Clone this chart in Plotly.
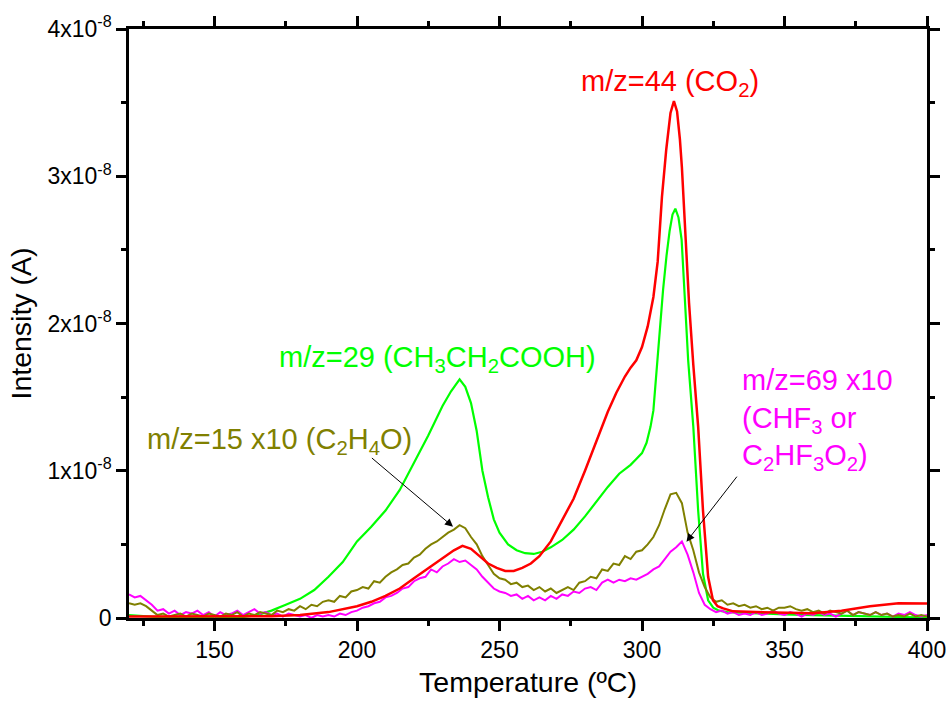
import plotly.graph_objects as go

# ---------------- data (intensity in units of 1e-8 A) ----------------
red_x = [120, 130, 140, 150, 160, 170, 180, 190, 200, 205, 210, 215, 220, 225, 230, 234, 237,
         240, 243, 246, 249, 252, 255, 258, 261, 264, 268, 272, 276, 280, 284, 288, 291, 294,
         296, 298, 300, 302, 304, 305.5, 307, 308.5, 310, 311.2, 312.3, 313.3, 314, 315, 316.5,
         318, 319.7, 321.4, 323.2, 324.9, 326.5, 328.5, 332, 340, 350, 360, 370, 380, 390, 395, 400]
red_y = [0.01, 0.01, 0.01, 0.01, 0.01, 0.012, 0.02, 0.04, 0.08, 0.11, 0.15, 0.2, 0.27, 0.34, 0.41,
         0.46, 0.49, 0.47, 0.42, 0.37, 0.34, 0.32, 0.32, 0.34, 0.37, 0.42, 0.52, 0.66, 0.81, 1.0,
         1.2, 1.4, 1.53, 1.64, 1.7, 1.75, 1.84, 1.98, 2.18, 2.42, 2.86, 3.18, 3.43, 3.51, 3.44,
         3.25, 3.06, 2.68, 2.14, 1.72, 1.3, 0.73, 0.28, 0.12, 0.08, 0.065, 0.045, 0.04, 0.035,
         0.033, 0.05, 0.08, 0.1, 0.1, 0.098]

green_x = [120, 125, 130, 140, 150, 160, 165, 170, 175, 180, 185, 190, 195, 200, 205, 210, 215,
           220, 225, 230, 233, 236, 238, 240, 242, 244, 246, 248, 250, 253, 256, 259, 262, 265,
           268, 272, 276, 280, 284, 288, 292, 296, 298, 300, 301.6, 303, 304, 305, 306.2, 307.4,
           308.6, 309.7, 310.7, 311.7, 312.8, 313.9, 315, 316.2, 318, 319.7, 321.4, 323.2, 325,
           327, 330, 340, 350, 360, 370, 380, 390, 400]
green_y = [0.02, 0.012, 0.006, 0.003, 0.003, 0.006, 0.02, 0.05, 0.09, 0.13, 0.19, 0.28, 0.38,
           0.52, 0.62, 0.73, 0.87, 1.05, 1.24, 1.44, 1.54, 1.62, 1.57, 1.46, 1.27, 1.0, 0.82,
           0.67, 0.58, 0.5, 0.46, 0.44, 0.435, 0.45, 0.48, 0.53, 0.6, 0.69, 0.79, 0.89, 0.98,
           1.04, 1.08, 1.12, 1.19, 1.3, 1.41, 1.65, 1.96, 2.23, 2.46, 2.63, 2.74, 2.78, 2.72,
           2.57, 2.18, 1.75, 1.3, 0.73, 0.3, 0.12, 0.07, 0.05, 0.04, 0.03, 0.025, 0.02, 0.015,
           0.01, 0.005, 0.003]

noisy_x = list(range(120, 401, 2))

olive_y = [0.10, 0.09, 0.10, 0.08, 0.05,
           0.02, 0.03, 0.01, 0.02, 0.03,
           0.01, 0.03, 0.02, 0.01, 0.03,
           0.02, 0.01, 0.03, 0.02, 0.04,
           0.01, 0.03, 0.02, 0.04, 0.03,
           0.02, 0.05, 0.04, 0.06, 0.05,
           0.08, 0.06, 0.09, 0.08, 0.11,
           0.12, 0.11, 0.15, 0.14, 0.18,
           0.19, 0.21, 0.20, 0.25, 0.24,
           0.28, 0.31, 0.33, 0.36, 0.37,
           0.41, 0.43, 0.47, 0.50, 0.52,
           0.55, 0.58, 0.60, 0.63, 0.61,
           0.55, 0.50, 0.42, 0.36, 0.30,
           0.27, 0.26, 0.23, 0.24, 0.21,
           0.22, 0.19, 0.21, 0.18, 0.20,
           0.17, 0.19, 0.21, 0.19, 0.24,
           0.25, 0.28, 0.27, 0.33, 0.32,
           0.37, 0.36, 0.42, 0.40, 0.45,
           0.46, 0.50, 0.55, 0.63, 0.74,
           0.84, 0.85, 0.78, 0.58, 0.46,
           0.31, 0.21, 0.14, 0.11, 0.12,
           0.09, 0.10, 0.08, 0.09, 0.07,
           0.08, 0.06, 0.07, 0.05, 0.07,
           0.07, 0.08, 0.06, 0.05, 0.06,
           0.04, 0.05, 0.03, 0.05, 0.04,
           0.03, 0.05, 0.02, 0.04, 0.03,
           0.02, 0.04, 0.02, 0.03, 0.01,
           0.02, 0.01, 0.03, 0.01, 0.02,
           0.01]

magenta_y = [0.16, 0.14, 0.15, 0.12, 0.09,
             0.05, 0.06, 0.03, 0.05, 0.02,
             0.04, 0.03, 0.05, 0.02, 0.04,
             0.01, 0.04, 0.02, 0.03, 0.05,
             0.02, 0.04, 0.06, 0.03, 0.04,
             0.02, 0.03, 0.01, 0.03, 0.02,
             0.01, 0.02, 0.00, 0.02, 0.01,
             0.02, 0.01, 0.03, 0.02, 0.04,
             0.05, 0.07, 0.08, 0.10, 0.11,
             0.14, 0.15, 0.17, 0.20, 0.21,
             0.25, 0.27, 0.28, 0.33, 0.31,
             0.35, 0.37, 0.40, 0.38, 0.39,
             0.36, 0.33, 0.28, 0.24, 0.20,
             0.18, 0.17, 0.15, 0.16, 0.13,
             0.15, 0.12, 0.14, 0.12, 0.15,
             0.13, 0.16, 0.15, 0.18, 0.17,
             0.20, 0.21, 0.19, 0.24, 0.26,
             0.24, 0.26, 0.25, 0.27, 0.26,
             0.28, 0.30, 0.33, 0.35, 0.40,
             0.45, 0.48, 0.52, 0.43, 0.31,
             0.17, 0.09, 0.06, 0.04, 0.05,
             0.03, 0.04, 0.02, 0.03, 0.02,
             0.04, 0.02, 0.03, 0.05, 0.03,
             0.02, 0.04, 0.03, 0.01, 0.03,
             0.02, 0.04, 0.02, 0.03, 0.01,
             0.03, 0.05, 0.02, 0.04, 0.03,
             0.02, 0.04, 0.02, 0.03, 0.01,
             0.03, 0.02, 0.04, 0.02, 0.01,
             0.02]

x_tickvals = [150, 200, 250, 300, 350, 400]
y_tickvals = [0, 1e-8, 2e-8, 3e-8, 4e-8]
y_ticktext = ["0", "1x10<sup>-8</sup>", "2x10<sup>-8</sup>", "3x10<sup>-8</sup>", "4x10<sup>-8</sup>"]

SCALE = 1e-8
FONT = "Liberation Sans, Arial, sans-serif"
RED, GREEN, OLIVE, MAGENTA = "#FF0000", "#00FF00", "#808000", "#FF00FF"

fig = go.Figure()
fig.add_trace(go.Scatter(x=green_x, y=[v * SCALE for v in green_y], mode="lines",
                         line=dict(color=GREEN, width=2.2)))
fig.add_trace(go.Scatter(x=noisy_x, y=[v * SCALE for v in magenta_y], mode="lines",
                         line=dict(color=MAGENTA, width=2)))
fig.add_trace(go.Scatter(x=noisy_x, y=[v * SCALE for v in olive_y], mode="lines",
                         line=dict(color=OLIVE, width=2)))
fig.add_trace(go.Scatter(x=red_x, y=[v * SCALE for v in red_y], mode="lines",
                         line=dict(color=RED, width=2.5)))

ann_font = 29
annotations = [
    dict(x=277.8, y=3.63e-8, text="m/z=44 (CO<sub>2</sub>)", font=dict(color=RED, size=ann_font),
         xanchor="left", yanchor="middle", showarrow=False),
    dict(x=172.0, y=1.76e-8, text="m/z=29 (CH<sub>3</sub>CH<sub>2</sub>COOH)",
         font=dict(color=GREEN, size=ann_font), xanchor="left", yanchor="middle", showarrow=False),
    dict(x=125.6, y=1.20e-8, text="m/z=15 x10 (C<sub>2</sub>H<sub>4</sub>O)",
         font=dict(color=OLIVE, size=ann_font), xanchor="left", yanchor="middle", showarrow=False),
    dict(x=334.5, y=1.345e-8,
         text="m/z=69 x10<br>(CHF<sub>3</sub> or<br>C<sub>2</sub>HF<sub>3</sub>O<sub>2</sub>)",
         font=dict(color=MAGENTA, size=ann_font), xanchor="left", yanchor="middle",
         align="left", showarrow=False),
    dict(x=233.7, y=0.62e-8, ax=204.7, ay=1.095e-8, axref="x", ayref="y", xref="x", yref="y",
         text="", showarrow=True, arrowhead=2, arrowsize=1.6, arrowwidth=1, arrowcolor="black"),
    dict(x=315.6, y=0.518e-8, ax=333.7, ay=0.97e-8, axref="x", ayref="y", xref="x", yref="y",
         text="", showarrow=True, arrowhead=2, arrowsize=1.6, arrowwidth=1, arrowcolor="black"),
]

axis_common = dict(showline=True, linecolor="black", linewidth=2.5, mirror="allticks",
                   ticks="outside", ticklen=10, tickwidth=2.5, tickcolor="black",
                   showgrid=False, zeroline=False, automargin=False,
                   tickfont=dict(family=FONT, size=23, color="black"))

fig.update_layout(
    width=951, height=707,
    margin=dict(l=129, r=24, t=29, b=89),
    paper_bgcolor="white", plot_bgcolor="white",
    showlegend=False,
    font=dict(family=FONT, color="black"),
    annotations=annotations,
    xaxis=dict(range=[120, 400], tickmode="array", tickvals=x_tickvals,
               title=dict(text="Temperature (ºC)", font=dict(family=FONT, size=28.5), standoff=10),
               minor=dict(tick0=125, dtick=25, ticks="outside", ticklen=5, tickwidth=2.5,
                          tickcolor="black"),
               **axis_common),
    yaxis=dict(range=[0, 4e-8], tickmode="array", tickvals=y_tickvals, ticktext=y_ticktext,
               title=dict(text="Intensity (A)", font=dict(family=FONT, size=28.5), standoff=8),
               minor=dict(tick0=0, dtick=0.5e-8, ticks="outside", ticklen=5, tickwidth=2.5,
                          tickcolor="black"),
               **axis_common),
)

fig.write_html("out.html")
